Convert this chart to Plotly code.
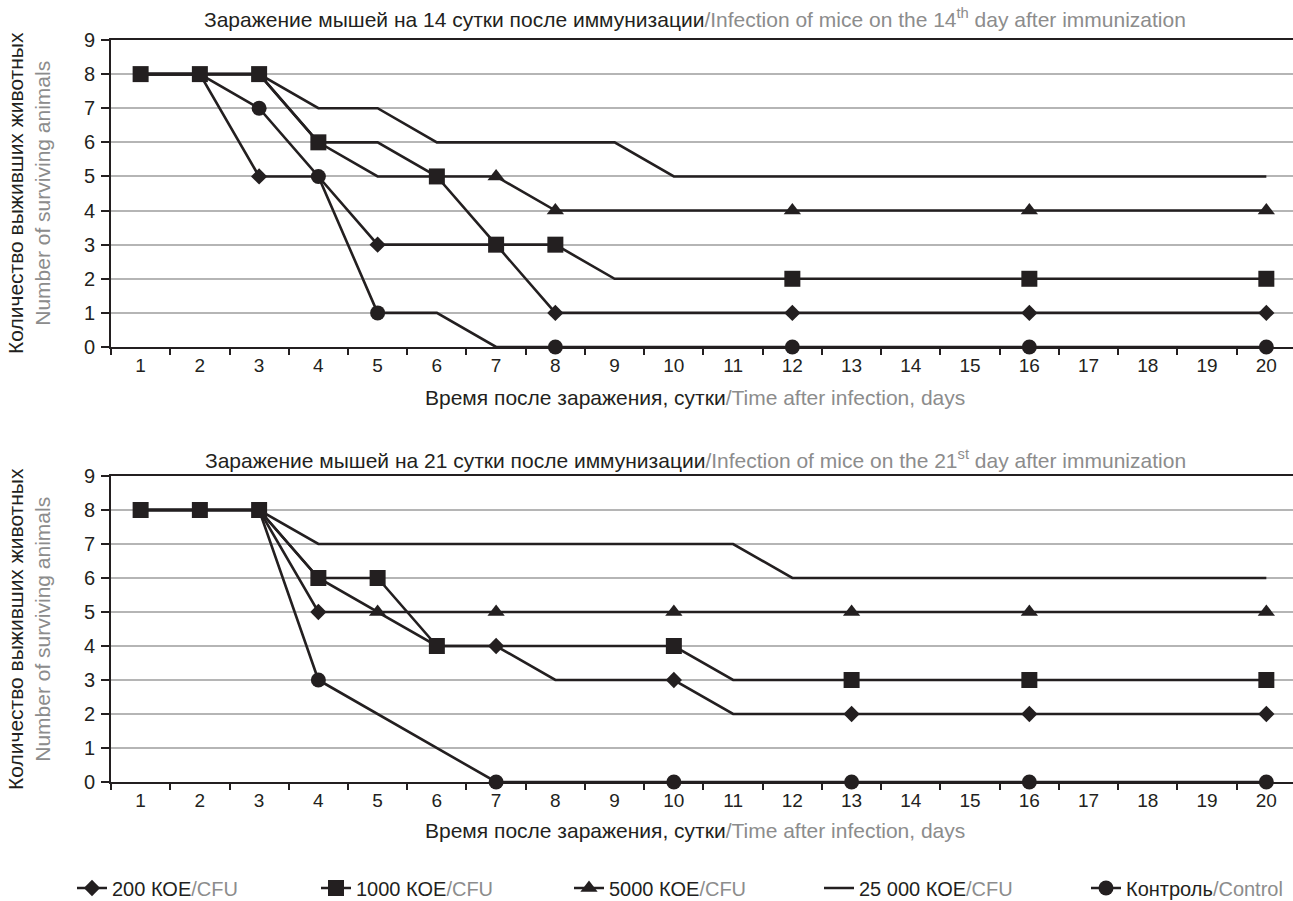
import plotly.graph_objects as go

days = [str(d) for d in range(1, 21)]
y_ticks = list(range(0, 10))

# ---- Infection on day 14 after immunization (top panel)
top_200 = [8, 8, 5, 5, 3, 3, 3, 1, 1, 1, 1, 1, 1, 1, 1, 1, 1, 1, 1, 1]
top_1000 = [8, 8, 8, 6, 5, 5, 3, 3, 2, 2, 2, 2, 2, 2, 2, 2, 2, 2, 2, 2]
top_5000 = [8, 8, 8, 6, 6, 5, 5, 4, 4, 4, 4, 4, 4, 4, 4, 4, 4, 4, 4, 4]
top_25000 = [8, 8, 8, 7, 7, 6, 6, 6, 6, 5, 5, 5, 5, 5, 5, 5, 5, 5, 5, 5]
top_ctrl = [8, 8, 7, 5, 1, 1, 0, 0, 0, 0, 0, 0, 0, 0, 0, 0, 0, 0, 0, 0]
# days on which a marker is printed
top_mk_200 = [3, 5, 8, 12, 16, 20]
top_mk_1000 = [1, 2, 3, 4, 6, 7, 8, 12, 16, 20]
top_mk_5000 = [7, 8, 12, 16, 20]
top_mk_25000 = []
top_mk_ctrl = [3, 4, 5, 8, 12, 16, 20]

# ---- Infection on day 21 after immunization (bottom panel)
bot_200 = [8, 8, 8, 5, 5, 4, 4, 3, 3, 3, 2, 2, 2, 2, 2, 2, 2, 2, 2, 2]
bot_1000 = [8, 8, 8, 6, 6, 4, 4, 4, 4, 4, 3, 3, 3, 3, 3, 3, 3, 3, 3, 3]
bot_5000 = [8, 8, 8, 6, 5, 5, 5, 5, 5, 5, 5, 5, 5, 5, 5, 5, 5, 5, 5, 5]
bot_25000 = [8, 8, 8, 7, 7, 7, 7, 7, 7, 7, 7, 6, 6, 6, 6, 6, 6, 6, 6, 6]
bot_ctrl = [8, 8, 8, 3, 2, 1, 0, 0, 0, 0, 0, 0, 0, 0, 0, 0, 0, 0, 0, 0]
bot_mk_200 = [4, 7, 10, 13, 16, 20]
bot_mk_1000 = [1, 2, 3, 4, 5, 6, 10, 13, 16, 20]
bot_mk_5000 = [5, 7, 10, 13, 16, 20]
bot_mk_25000 = []
bot_mk_ctrl = [4, 7, 10, 13, 16, 20]

GRAY = "#8c8c8c"
series_names = [
    f"200 КОЕ<span style='color:{GRAY}'>/CFU</span>",
    f"1000 КОЕ<span style='color:{GRAY}'>/CFU</span>",
    f"5000 КОЕ<span style='color:{GRAY}'>/CFU</span>",
    f"25 000 КОЕ<span style='color:{GRAY}'>/CFU</span>",
    f"Контроль<span style='color:{GRAY}'>/Control</span>",
]
titles = [
    f"Заражение мышей на 14 сутки после иммунизации<span style='color:{GRAY}'>/Infection of mice on the 14<sup>th</sup> day after immunization</span>",
    f"Заражение мышей на 21 сутки после иммунизации<span style='color:{GRAY}'>/Infection of mice on the 21<sup>st</sup> day after immunization</span>",
]
x_title = f"Время после заражения, сутки<span style='color:{GRAY}'>/Time after infection, days</span>"
y_title = f"Количество выживших животных<br><span style='color:{GRAY}'>Number of surviving animals</span>"

INK = "#231f20"
FONT = "Liberation Sans, Arial, sans-serif"
symbols = ["diamond", "square", "triangle-up", None, "circle"]
sizes = [12.5, 16, 15, 0, 15]
draw_order = [3, 2, 0, 1, 4]  # later = on top
legend_ids = ["legend", "legend2", "legend3", "legend4", "legend5"]
legend_text_x = [112, 356, 609, 859, 1126]  # where each legend label starts (px)

panels = [
    ("x", "y", [top_200, top_1000, top_5000, top_25000, top_ctrl],
     [top_mk_200, top_mk_1000, top_mk_5000, top_mk_25000, top_mk_ctrl]),
    ("x2", "y2", [bot_200, bot_1000, bot_5000, bot_25000, bot_ctrl],
     [bot_mk_200, bot_mk_1000, bot_mk_5000, bot_mk_25000, bot_mk_ctrl]),
]

fig = go.Figure()
for xa, ya, vals, mks in panels:
    for i in draw_order:
        fig.add_trace(go.Scatter(
            x=days, y=vals[i], xaxis=xa, yaxis=ya, mode="lines", cliponaxis=False,
            line=dict(color=INK, width=2.6), showlegend=False, hoverinfo="skip"))
    for i in draw_order:
        if not mks[i]:
            continue
        fig.add_trace(go.Scatter(
            x=[str(d) for d in mks[i]], y=[vals[i][d - 1] for d in mks[i]],
            xaxis=xa, yaxis=ya, mode="markers", cliponaxis=False,
            marker=dict(symbol=symbols[i], size=sizes[i], color=INK, line=dict(width=0)),
            showlegend=False))

# legend entries (one legend box per entry so they sit where the reference puts them)
for i in range(5):
    fig.add_trace(go.Scatter(
        x=[None], y=[None], mode="lines+markers" if symbols[i] else "lines",
        name=series_names[i], legend=legend_ids[i],
        line=dict(color=INK, width=2.6),
        marker=dict(symbol=symbols[i] or "circle", size=sizes[i] if symbols[i] else 1,
                    color=INK)))

L, R, T, B = 111, 0, 40, 119
W, H = 1293, 901
PW, PH = W - L - R, H - T - B


def px_x(px):
    return (px - L) / PW


def px_y(py):
    return (H - B - py) / PH


xaxis_common = dict(
    type="category", range=[-0.5, 19.45], tickson="boundaries",
    ticks="outside", ticklen=6, tickwidth=1.5, tickcolor=INK,
    showline=True, linecolor=INK, linewidth=1.8, mirror=True,
    showgrid=False, zeroline=False,
    tickfont=dict(size=19, color=INK, family=FONT),
)
yaxis_common = dict(
    range=[0, 9], tickvals=y_ticks, ticks="outside", ticklen=8, tickwidth=1.5,
    tickcolor=INK, showline=True, linecolor=INK, linewidth=1.8,
    showgrid=True, gridcolor="#b5b5b5", gridwidth=1.5, zeroline=False,
    tickfont=dict(size=20, color=INK, family=FONT), ticklabelstandoff=2,
)

legend_layout = {}
for k, lid in enumerate(legend_ids):
    legend_layout[lid] = dict(
        orientation="h", xref="container", yref="container",
        x=(legend_text_x[k] - 40) / W, y=1 - 888 / H, xanchor="left", yanchor="middle",
        font=dict(size=20, family=FONT, color=INK), bgcolor="rgba(0,0,0,0)")

fig.update_layout(
    width=W, height=H,
    margin=dict(l=L, r=R, t=T, b=B, autoexpand=False),
    plot_bgcolor="white", paper_bgcolor="white",
    font=dict(family=FONT, color=INK, size=18),
    xaxis=dict(domain=[0, 1], anchor="y", **xaxis_common),
    yaxis=dict(domain=[px_y(347), 1], anchor="x", **yaxis_common),
    xaxis2=dict(domain=[0, 1], anchor="y2", **xaxis_common),
    yaxis2=dict(domain=[0, px_y(476)], anchor="x2", **yaxis_common),
    showlegend=True,
    **legend_layout,
)

ann = []
for ty, t in zip([18, 459], titles):
    ann.append(dict(x=px_x(695), y=px_y(ty), xref="paper", yref="paper", text=t,
                    showarrow=False, xanchor="center", yanchor="middle",
                    font=dict(size=21, family=FONT, color=INK)))
for ty in [397, 830]:
    ann.append(dict(x=px_x(695), y=px_y(ty), xref="paper", yref="paper", text=x_title,
                    showarrow=False, xanchor="center", yanchor="middle",
                    font=dict(size=21, family=FONT, color=INK)))
for ty in [193, 629]:
    ann.append(dict(x=px_x(29), y=px_y(ty), xref="paper", yref="paper", text=y_title,
                    showarrow=False, xanchor="center", yanchor="middle", textangle=-90,
                    font=dict(size=21, family=FONT, color=INK)))
fig.update_layout(annotations=ann)

fig.write_html("out.html", config={"displayModeBar": False})

# remove the browser's default page margin so the figure sits at the window origin
with open("out.html", encoding="utf-8") as fh:
    html = fh.read()
html = html.replace("<head>", "<head><style>html,body{margin:0;padding:0;overflow:hidden;}</style>", 1)
with open("out.html", "w", encoding="utf-8") as fh:
    fh.write(html)
